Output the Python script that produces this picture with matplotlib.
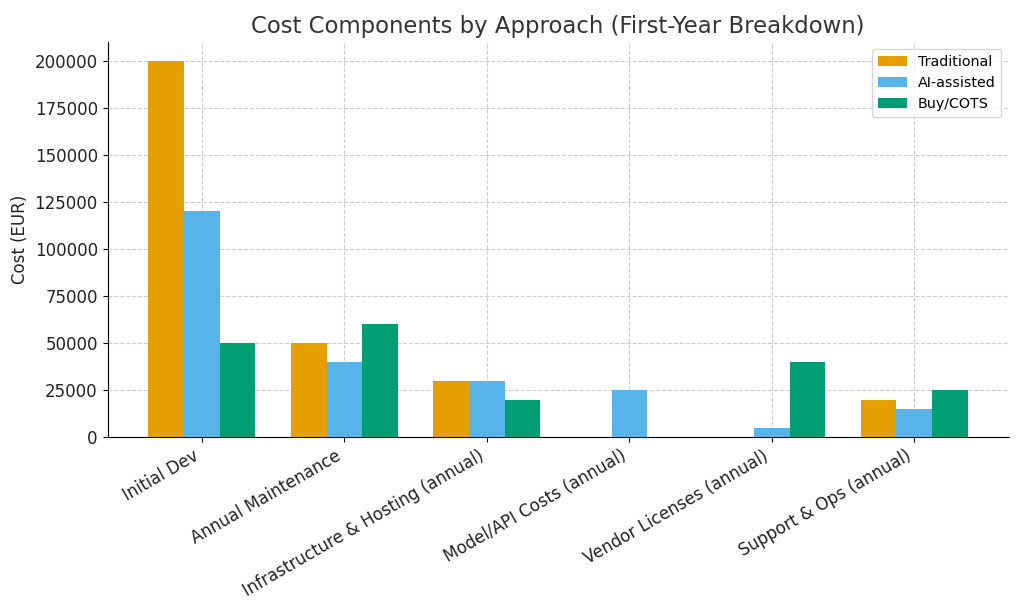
import numpy as np
import matplotlib.pyplot as plt

categories = [
    "Initial Dev",
    "Annual Maintenance",
    "Infrastructure & Hosting (annual)",
    "Model/API Costs (annual)",
    "Vendor Licenses (annual)",
    "Support & Ops (annual)",
]
traditional = [200000, 50000, 30000, 0, 0, 20000]
ai_assisted = [120000, 40000, 30000, 25000, 5000, 15000]
buy_cots = [50000, 60000, 20000, 0, 40000, 25000]

series = [
    ("Traditional", traditional, "#E69F00"),
    ("AI-assisted", ai_assisted, "#56B4E9"),
    ("Buy/COTS", buy_cots, "#009E73"),
]

fig, ax = plt.subplots(figsize=(10.24, 6.14), dpi=100)
fig.subplots_adjust(left=0.105, right=0.985, top=0.932, bottom=0.288)

x = np.arange(len(categories))
width = 0.25
for i, (name, values, color) in enumerate(series):
    ax.bar(x + (i - 1) * width, values, width, label=name, color=color, zorder=3)

ax.set_xticks(x)
ax.set_xticklabels(categories, rotation=30, ha="right", fontsize=12, color="#222222")
ax.tick_params(axis="y", labelsize=12, labelcolor="#222222")
ax.set_ylabel("Cost (EUR)", fontsize=12, color="#222222")
ax.set_title("Cost Components by Approach (First-Year Breakdown)", fontsize=16.4, color="#333333")
ax.set_ylim(0, 210000)
ax.grid(True, linestyle="--", color="#cccccc", linewidth=0.8, zorder=0)
ax.spines["top"].set_visible(False)
ax.spines["right"].set_visible(False)
ax.legend(loc="upper right", fontsize=10.3)

fig.savefig("out.png", dpi=100)
